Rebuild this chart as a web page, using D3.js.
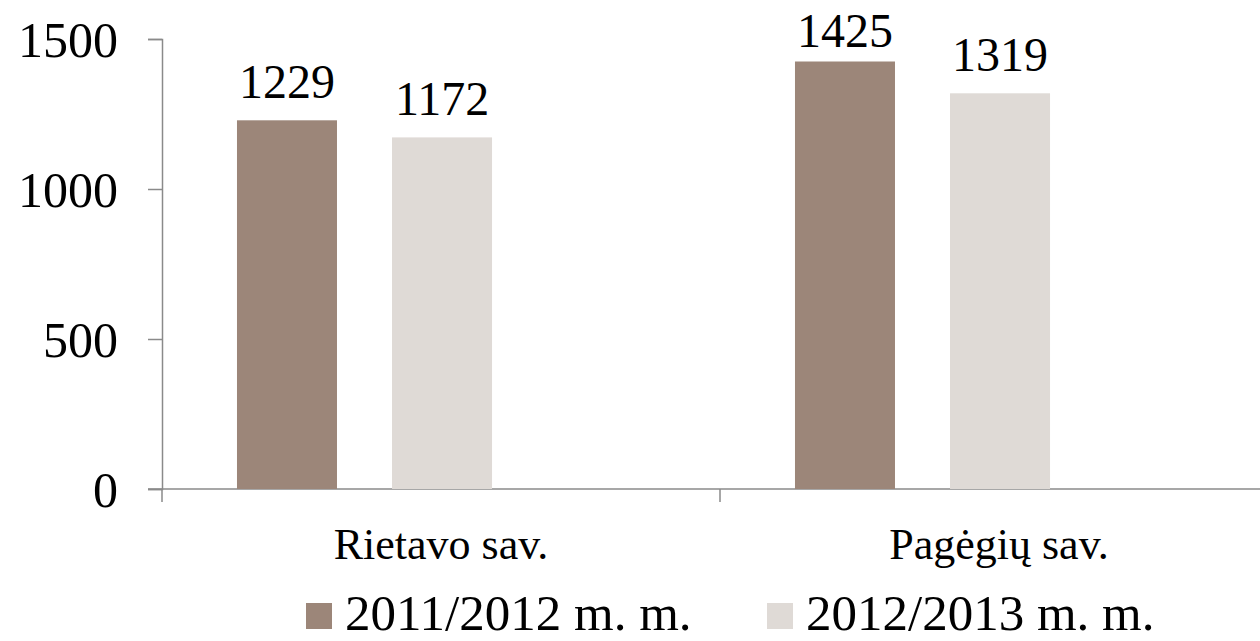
<!DOCTYPE html>
<html>
<head>
<meta charset="utf-8">
<script src="https://cdn.jsdelivr.net/npm/d3@7"></script>
<style>
  html, body { margin: 0; padding: 0; background: #fff; }
  text { font-family: "Liberation Serif", "DejaVu Serif", serif; fill: #000; }
</style>
</head>
<body>
<svg id="chart"></svg>
<script>
const categories = ["Rietavo sav.", "Pagėgių sav."]
const seriesNames = ["2011/2012 m. m.", "2012/2013 m. m."]
const values2011 = [1229, 1425]
const values2012 = [1172, 1319]
const yTicks = [0, 500, 1000, 1500]

const colors = ["#9C8679", "#DFDAD6"]

const width = 1260
const height = 641
const marginLeft = 162
const marginTop = 39
const plotH = 450

const svg = d3.select('#chart')
    .attr('width', width)
    .attr('height', height)

const data = categories.map((c, i) => ({
    cat: c,
    vals: [values2011[i], values2012[i]]
}))

const x0 = d3.scaleBand()
    .domain(categories)
    .range([marginLeft, marginLeft + 558 * 2])
    .padding(0)

const x1 = d3.scaleBand()
    .domain(seriesNames)
    .range([0, x0.bandwidth()])
    .paddingInner(0.355)
    .paddingOuter(0.977)
    .align(0.2475)

const y = d3.scaleLinear()
    .domain([0, 1500])
    .range([marginTop + plotH, marginTop])

// y axis
const yAxis = d3.axisLeft(y)
    .tickValues(yTicks)
    .tickFormat(d3.format('d'))
    .tickSize(14)
    .tickPadding(30)

const gy = svg.append('g')
    .attr('transform', `translate(${marginLeft},0)`)
    .call(yAxis)
gy.select('.domain').attr('stroke', '#8a8a8a').attr('stroke-width', 1.5)
gy.selectAll('.tick line').attr('stroke', '#8a8a8a').attr('stroke-width', 1.5)
gy.selectAll('.tick text')
    .attr('font-size', 50)
    .attr('font-family', '"Liberation Serif", serif')
    .attr('fill', '#000')
    .attr('dy', '0.34em')

// x axis
const gx = svg.append('g')
    .attr('transform', `translate(0,${y(0)})`)
gx.append('line')
    .attr('x1', x0.range()[0] - 14)
    .attr('x2', x0.range()[1])
    .attr('stroke', '#8a8a8a')
    .attr('stroke-width', 1.5)
gx.selectAll('.cat-tick')
    .data(categories.map(c => x0(c)).concat([x0.range()[1]]))
    .enter()
    .append('line')
    .attr('x1', d => d)
    .attr('x2', d => d)
    .attr('y1', 0)
    .attr('y2', 13)
    .attr('stroke', '#8a8a8a')
    .attr('stroke-width', 1.5)
gx.selectAll('.cat-label')
    .data(categories)
    .enter()
    .append('text')
    .attr('x', d => x0(d) + x0.bandwidth() / 2)
    .attr('y', 70)
    .attr('text-anchor', 'middle')
    .attr('font-size', 44)
    .text(d => d)

// bars
const groups = svg.append('g')
    .selectAll('g')
    .data(data)
    .enter()
    .append('g')
    .attr('transform', d => `translate(${x0(d.cat)},0)`)

groups.selectAll('rect')
    .data(d => d.vals.map((v, i) => ({ key: seriesNames[i], v: v, i: i })))
    .enter()
    .append('rect')
    .attr('x', d => x1(d.key))
    .attr('y', d => y(d.v))
    .attr('width', x1.bandwidth())
    .attr('height', d => y(0) - y(d.v))
    .attr('fill', d => colors[d.i])

groups.selectAll('text')
    .data(d => d.vals.map((v, i) => ({ key: seriesNames[i], v: v })))
    .enter()
    .append('text')
    .attr('x', d => x1(d.key) + x1.bandwidth() / 2)
    .attr('y', d => Math.max(y(d.v) - 22, 47))
    .attr('text-anchor', 'middle')
    .attr('font-size', 48)
    .text(d => d.v)

// legend
const legendX = [306, 767]
const legend = svg.append('g')
    .selectAll('g')
    .data(seriesNames)
    .enter()
    .append('g')
    .attr('transform', (d, i) => `translate(${legendX[i]},603)`)
legend.append('rect')
    .attr('width', 26)
    .attr('height', 26)
    .attr('fill', (d, i) => colors[i])
legend.append('text')
    .attr('x', 39)
    .attr('y', 27)
    .attr('font-size', 51)
    .text(d => d)
</script>
</body>
</html>
